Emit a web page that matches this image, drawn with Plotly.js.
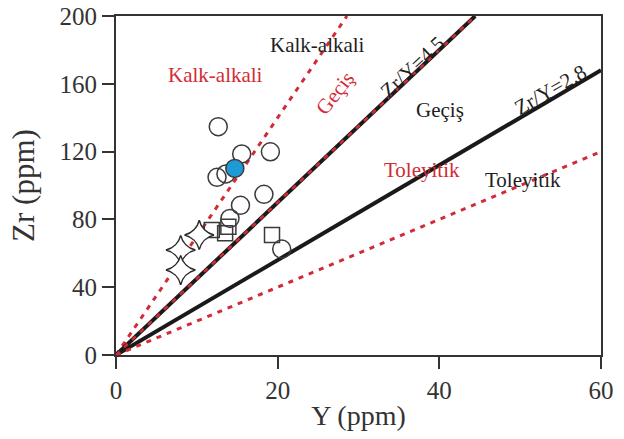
<!DOCTYPE html>
<html>
<head>
<meta charset="utf-8">
<script src="https://cdn.plot.ly/plotly-3.0.1.min.js"></script>
<style>html,body{margin:0;padding:0;background:#fff;}#chart{width:624px;height:439px;}</style>
</head>
<body>
<div id="chart"></div>
<script>
// Open circles
const circleY = [12.5, 13.6, 15.55, 12.65, 19.1, 18.3, 15.4, 14.1, 20.5];
const circleZr = [104.8, 106.8, 118.6, 134.7, 119.9, 94.8, 88.3, 80.6, 62.5];
// Filled blue circle
const blueY = [14.7];
const blueZr = [110.1];
// Open squares
const squareY = [11.85, 13.9, 13.5, 19.3];
const squareZr = [73.7, 75.7, 71.8, 70.8];
// Open stars
const starY = [10.3, 8.0, 8.0];
const starZr = [70.8, 61.9, 50.1];

// Discrimination lines (Zr/Y ratios) and their end Y values
const blackRatios = [4.5, 2.8];
const blackEndY = [44.44, 60];
const redRatios = [7, 4.5, 2];
const redEndY = [28.57, 44.44, 60];

const xTicks = [0, 20, 40, 60];
const yTicks = [0, 40, 80, 120, 160, 200];

const serif = "'Liberation Serif', 'Times New Roman', Times, serif";
const redC = '#d22b36';
const txtC = '#1e1e1e';
const traces = [];

function lineTrace(ratio, endY, color, width, dash) {
  return {
    x: [0, endY], y: [0, ratio * endY], mode: 'lines', type: 'scatter',
    line: {color: color, width: width, dash: dash}, hoverinfo: 'skip', showlegend: false
  };
}
traces.push(lineTrace(redRatios[0], redEndY[0], redC, 3, '5px,6px'));
blackRatios.forEach((r, i) => traces.push(lineTrace(r, blackEndY[i], '#1a1a1a', 4, 'solid')));
traces.push(lineTrace(redRatios[1], redEndY[1], redC, 2.5, '5px,6px'));
traces.push(lineTrace(redRatios[2], redEndY[2], redC, 3, '5px,6px'));

const mline = {color: '#3a3a3a', width: 1.5};
traces.push({x: circleY, y: circleZr, mode: 'markers', type: 'scatter', showlegend: false,
  marker: {symbol: 'circle-open', size: 18, line: mline, color: '#3a3a3a'}});
traces.push({x: squareY, y: squareZr, mode: 'markers', type: 'scatter', showlegend: false,
  marker: {symbol: 'square', size: 15, color: 'rgba(255,255,255,0)', line: mline}});
traces.push({x: starY, y: starZr, mode: 'markers', type: 'scatter', showlegend: false,
  marker: {symbol: 'star-diamond', size: 21, color: 'rgba(255,255,255,1)', line: {color: '#2a2a2a', width: 1.5}}});
traces.push({x: blueY, y: blueZr, mode: 'markers', type: 'scatter', showlegend: false,
  marker: {symbol: 'circle', size: 18, color: '#1e9ad6', line: mline}});

function ann(x, y, text, color, angle) {
  return {x: x, y: y, xref: 'x', yref: 'y', text: text, showarrow: false,
    textangle: angle || 0, font: {family: serif, size: 21, color: color}};
}
const annotations = [
  ann(24.9, 182.9, 'Kalk-alkali', txtC),
  ann(12.25, 165.2, 'Kalk-alkali', redC),
  ann(27.1, 154.6, 'Geçiş', redC, -52),
  ann(36.7, 169.9, 'Zr/Y=4.5', txtC, -43),
  ann(40.1, 144.5, 'Geçiş', txtC),
  ann(53.7, 156.3, 'Zr/Y=2.8', txtC, -30),
  ann(37.8, 109.1, 'Toleyitik', redC),
  ann(50.4, 103.2, 'Toleyitik', txtC)
];

const axisCommon = {
  showline: true, mirror: true, linecolor: '#333', linewidth: 2,
  ticks: 'outside', ticklen: 12, tickwidth: 2, tickcolor: '#333',
  showgrid: false, zeroline: false,
  tickfont: {family: serif, size: 25, color: '#333'}
};
const layout = {
  width: 624, height: 439,
  margin: {l: 116, r: 23, t: 16, b: 84},
  paper_bgcolor: '#fff', plot_bgcolor: '#fff',
  font: {family: serif},
  xaxis: Object.assign({}, axisCommon, {range: [0, 60], tickvals: xTicks, ticktext: xTicks.map(String),
    title: {text: 'Y (ppm)', font: {family: serif, size: 28, color: '#333'}, standoff: 2}}),
  yaxis: Object.assign({}, axisCommon, {range: [0, 200], tickvals: yTicks, ticktext: yTicks.map(String),
    title: {text: 'Zr (ppm)', font: {family: serif, size: 31, color: '#333'}, standoff: 16}}),
  annotations: annotations,
  showlegend: false
};
Plotly.newPlot('chart', traces, layout, {displayModeBar: false, staticPlot: true});
</script>
</body>
</html>
